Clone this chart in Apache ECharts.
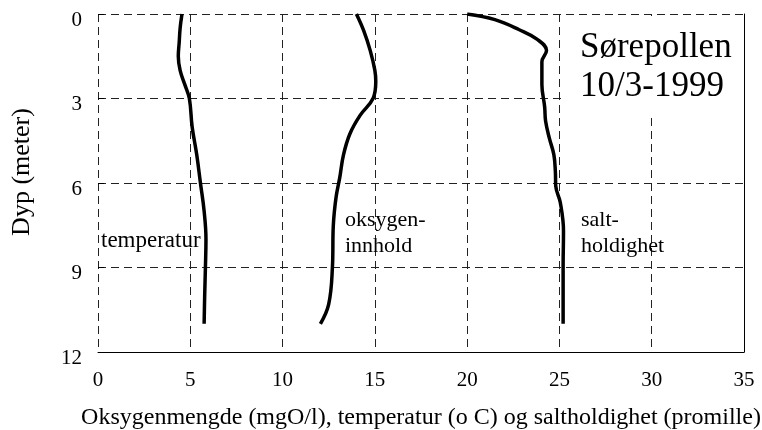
<!DOCTYPE html>
<html>
<head>
<meta charset="utf-8">
<script src="https://cdn.jsdelivr.net/npm/echarts@6/dist/echarts.min.js"></script>
<style>
  html, body { margin: 0; padding: 0; background: #fff; }
</style>
</head>
<body>
<div id="main" style="width:762px;height:430px;"></div>
<script>
// data: [value, depth in meter]
const xTicks = [0, 5, 10, 15, 20, 25, 30, 35];
const depthTicks = [0, 3, 6, 9, 12];

const temperatur = [
  [4.55, 0], [4.45, 0.5], [4.4, 1], [4.35, 1.5], [4.45, 2], [4.7, 2.5],
  [4.95, 3], [5.1, 4], [5.35, 5], [5.55, 6], [5.75, 7], [5.85, 8],
  [5.82, 9], [5.78, 10], [5.75, 11]
];
const oksygen = [
  [14.0, 0], [14.4, 0.6], [14.75, 1.3], [15.0, 2], [15.05, 2.4], [14.9, 3],
  [14.2, 3.6], [13.65, 4.25], [13.3, 5], [13.1, 5.8], [12.9, 6.5],
  [12.75, 7.5], [12.7, 9], [12.5, 10.3], [12.05, 11]
];
const salt = [
  [20, 0], [21.5, 0.2], [22.8, 0.55], [23.8, 0.9], [24.3, 1.3], [24.05, 1.7],
  [24.05, 2.5], [24.2, 3.3], [24.25, 3.8], [24.45, 4.4], [24.7, 5.0],
  [24.78, 5.6], [24.8, 6.1], [25.05, 6.7], [25.22, 7.7], [25.2, 9], [25.2, 11]
];

const font = '"Liberation Serif", "Times New Roman", serif';

function curve(name, data) {
  return {
    name: name,
    type: 'line',
    smooth: 0.4,
    showSymbol: false,
    data: data,
    lineStyle: { color: '#000', width: 3.5 },
    z: 3
  };
}

const dash = { color: '#222', type: [8, 5], width: 1 };

const chart = echarts.init(document.getElementById('main'));
chart.setOption({
  animation: false,
  backgroundColor: '#fff',
  grid: { left: 98, right: 18, top: 14, bottom: 78, containLabel: false, outerBoundsMode: 'none' },
  xAxis: {
    type: 'value',
    min: xTicks[0],
    max: xTicks[xTicks.length - 1],
    interval: 5,
    name: 'Oksygenmengde (mgO/l), temperatur (o C) og saltholdighet (promille)',
    nameLocation: 'middle',
    nameGap: 54,
    nameTextStyle: { fontFamily: font, fontSize: 24, color: '#000' },
    axisLine: { show: true, onZero: false, lineStyle: { color: '#000', width: 1 } },
    axisTick: { show: false },
    axisLabel: { fontFamily: font, fontSize: 21, color: '#000', margin: 18 },
    splitLine: { show: true, showMaxLine: false, lineStyle: dash }
  },
  yAxis: [{
    type: 'value',
    inverse: true,
    min: depthTicks[0],
    max: depthTicks[depthTicks.length - 1],
    interval: 3,
    name: 'Dyp (meter)',
    nameLocation: 'middle',
    nameGap: 63,
    nameTextStyle: { fontFamily: font, fontSize: 26, color: '#000', padding: [0, 0, 0, 22] },
    axisLine: { show: false, onZero: false },
    axisTick: { show: true, inside: true, length: 6, lineStyle: { color: '#000' } },
    axisLabel: { fontFamily: font, fontSize: 21, color: '#000', margin: 16, verticalAlign: 'top', lineHeight: 12 },
    splitLine: { show: true, showMaxLine: false, lineStyle: dash }
  }, {
    type: 'value',
    inverse: true,
    position: 'right',
    min: depthTicks[0],
    max: depthTicks[depthTicks.length - 1],
    axisLine: { show: true, onZero: false, lineStyle: { color: '#000', width: 1 } },
    axisTick: { show: false },
    axisLabel: { show: false },
    splitLine: { show: false }
  }],
  series: [
    curve('temperatur', temperatur),
    curve('oksygeninnhold', oksygen),
    curve('saltholdighet', salt)
  ],
  graphic: [
    { type: 'rect', shape: { x: 563, y: 16, width: 180, height: 97 }, style: { fill: '#fff' }, z: 10 },
    { type: 'text', left: 580, top: 28, z: 11,
      style: { text: 'Sørepollen\n10/3-1999', font: '35px ' + font, fill: '#000', lineHeight: 39 } },
    { type: 'text', left: 101, top: 229, z: 11,
      style: { text: 'temperatur', font: '23px ' + font, fill: '#000' } },
    { type: 'text', left: 345, top: 207, z: 11,
      style: { text: 'oksygen-\ninnhold', font: '22px ' + font, fill: '#000', lineHeight: 26 } },
    { type: 'text', left: 581, top: 207, z: 11,
      style: { text: 'salt-\nholdighet', font: '22px ' + font, fill: '#000', lineHeight: 26 } }
  ]
});
</script>
</body>
</html>
